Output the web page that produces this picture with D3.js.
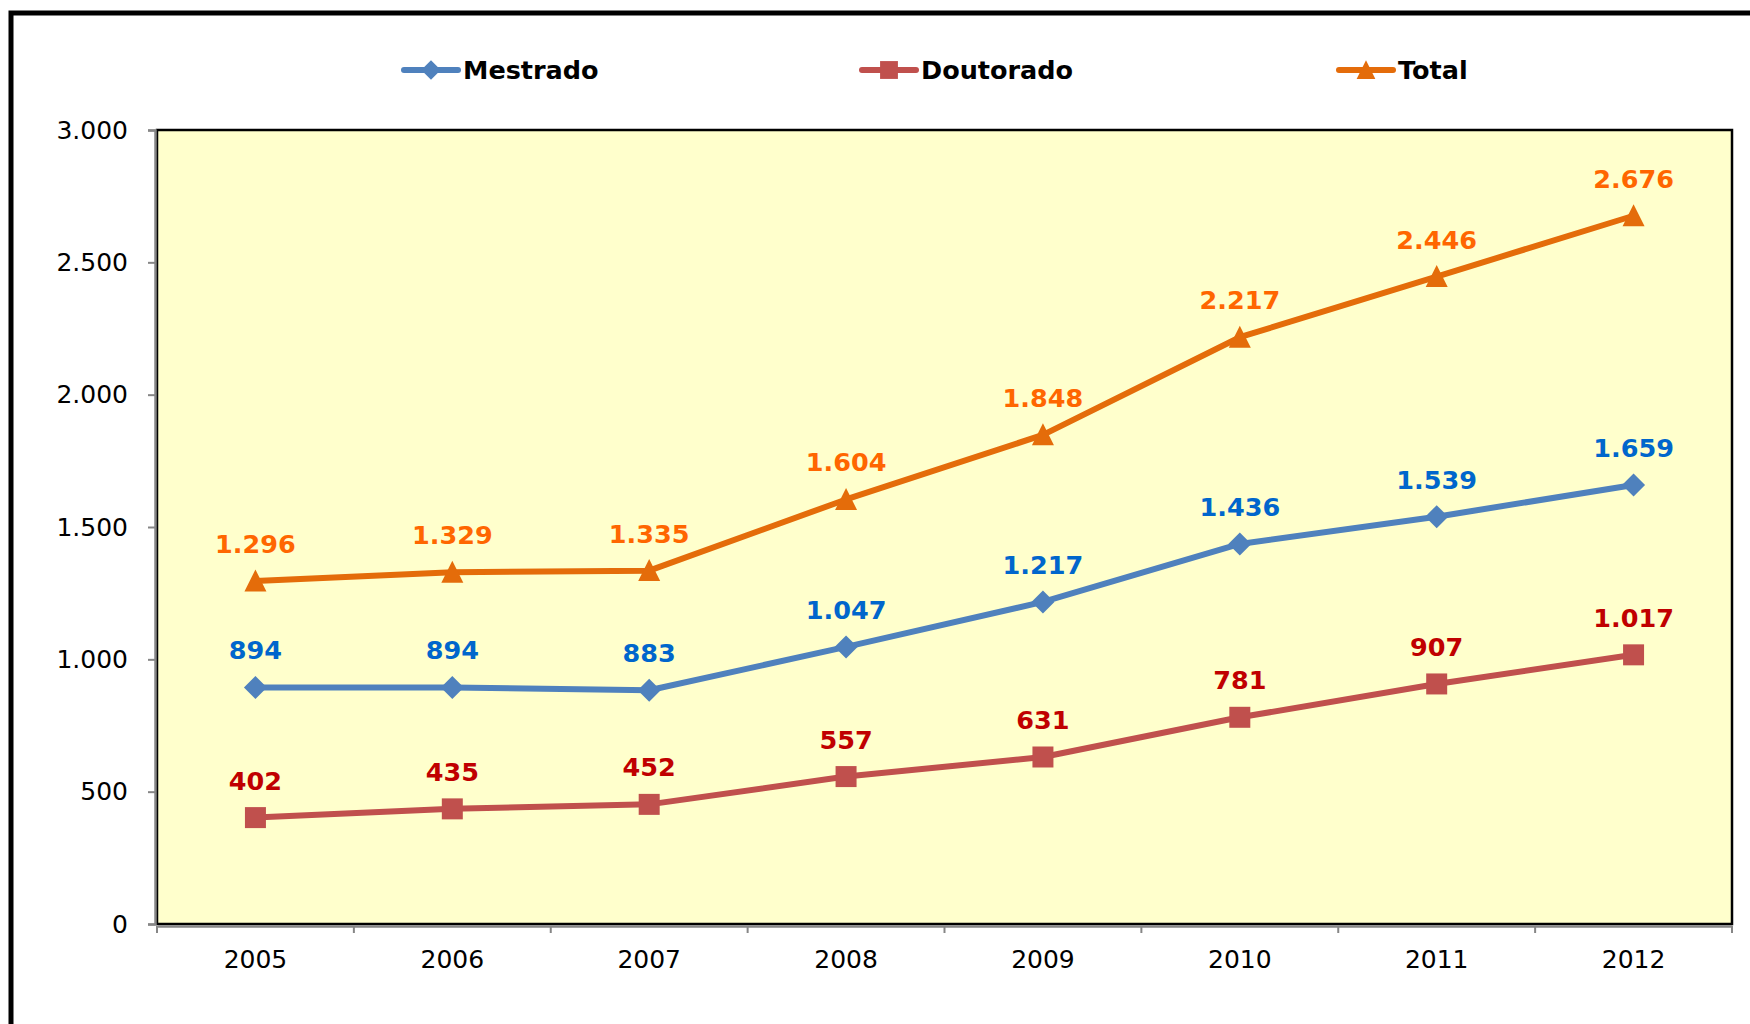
<!DOCTYPE html>
<html>
<head>
<meta charset="utf-8">
<script src="https://cdn.jsdelivr.net/npm/d3@7"></script>
<style>
  html, body { margin: 0; padding: 0; background: #ffffff; }
  svg { display: block; }
  text { font-family: "DejaVu Sans", Verdana, sans-serif; }
</style>
</head>
<body>
<svg id="chart" width="1750" height="1024"></svg>
<script>
// Data
const years = ["2005", "2006", "2007", "2008", "2009", "2010", "2011", "2012"];
const mestrado = [894, 894, 883, 1047, 1217, 1436, 1539, 1659];
const doutorado = [402, 435, 452, 557, 631, 781, 907, 1017];
const total = [1296, 1329, 1335, 1604, 1848, 2217, 2446, 2676];
const yTicks = [0, 500, 1000, 1500, 2000, 2500, 3000];
const seriesNames = ["Mestrado", "Doutorado", "Total"];

const series = [
  { name: seriesNames[0], values: mestrado, line: "#4F81BD", label: "#0066CC", marker: "diamond" },
  { name: seriesNames[1], values: doutorado, line: "#C0504D", label: "#C00000", marker: "square" },
  { name: seriesNames[2], values: total, line: "#E46C0A", label: "#FF6600", marker: "triangle" }
];

const locale = d3.formatLocale({ decimal: ",", thousands: ".", grouping: [3], currency: ["", ""] });
const fmt = locale.format(",d");

const svg = d3.select("#chart");

// Outer frame
svg.append("rect")
  .attr("x", 11).attr("y", 13)
  .attr("width", 1800).attr("height", 1100)
  .attr("fill", "#ffffff")
  .attr("stroke", "#000000").attr("stroke-width", 5);

const plot = { left: 157, right: 1732, top: 130, bottom: 924 };

const xBand = d3.scaleBand().domain(years).range([plot.left, plot.right]).paddingInner(0).paddingOuter(0);
const xc = d => xBand(d) + xBand.bandwidth() / 2;
const y = d3.scaleLinear().domain([0, 3000]).range([plot.bottom, plot.top]);

// Plot background
svg.append("rect")
  .attr("x", plot.left).attr("y", plot.top)
  .attr("width", plot.right - plot.left).attr("height", plot.bottom - plot.top)
  .attr("fill", "#FFFFCC")
  .attr("stroke", "#000000").attr("stroke-width", 2.5);

// Y axis
const yAxis = svg.append("g")
  .attr("transform", `translate(${plot.left - 2},0)`)
  .call(d3.axisLeft(y).tickValues(yTicks).tickFormat(fmt).tickSize(7).tickPadding(20));
yAxis.select(".domain").attr("stroke", "#868686").attr("stroke-width", 2.5);
yAxis.selectAll(".tick line").attr("stroke", "#868686").attr("stroke-width", 2);
yAxis.selectAll(".tick text")
  .attr("font-size", 25).attr("fill", "#000000")
  .style("font-family", "'DejaVu Sans', Verdana, sans-serif");

// X axis: labels centred in each band, tick marks at band boundaries
const xAxis = svg.append("g")
  .attr("transform", `translate(0,${plot.bottom + 2})`)
  .call(d3.axisBottom(xBand).tickSize(0).tickPadding(24));
xAxis.select(".domain").attr("stroke", "#868686").attr("stroke-width", 2.5);
xAxis.selectAll(".tick text")
  .attr("font-size", 25).attr("fill", "#000000")
  .style("font-family", "'DejaVu Sans', Verdana, sans-serif");
const bounds = years.map(d => xBand(d)).concat([xBand.range()[1]]);
xAxis.selectAll(".bound")
  .data(bounds)
  .enter().append("line")
  .attr("class", "bound")
  .attr("x1", d => d).attr("x2", d => d)
  .attr("y1", 0).attr("y2", 7)
  .attr("stroke", "#868686").attr("stroke-width", 2);

// Marker shapes
function markerPath(type, s) {
  if (type === "diamond") return `M0,${-s}L${s},0L0,${s}L${-s},0Z`;
  if (type === "square") return `M${-s},${-s}H${s}V${s}H${-s}Z`;
  return `M0,${-s * 1.05}L${s},${s * 0.95}H${-s}Z`;
}
const markerSize = { diamond: 11.5, square: 10.5, triangle: 11 };

const line = d3.line().x((d, i) => xc(years[i])).y(d => y(d));

series.forEach(s => {
  const g = svg.append("g").attr("class", "series");
  g.append("path")
    .datum(s.values)
    .attr("d", line)
    .attr("fill", "none")
    .attr("stroke", s.line)
    .attr("stroke-width", 6)
    .attr("stroke-linejoin", "round");
  g.selectAll(".mk")
    .data(s.values)
    .enter().append("path")
    .attr("class", "mk")
    .attr("transform", (d, i) => `translate(${xc(years[i])},${y(d)})`)
    .attr("d", markerPath(s.marker, markerSize[s.marker]))
    .attr("fill", s.line);
  g.selectAll(".lbl")
    .data(s.values)
    .enter().append("text")
    .attr("class", "lbl")
    .attr("x", (d, i) => xc(years[i]))
    .attr("y", d => y(d) - 28)
    .attr("text-anchor", "middle")
    .attr("font-size", 25.5)
    .attr("font-weight", "bold")
    .attr("fill", s.label)
    .text(d => fmt(d));
});

// Legend
const legendX = [404, 862, 1339];
const legend = svg.append("g").attr("class", "legend");
series.forEach((s, i) => {
  const g = legend.append("g").attr("transform", `translate(${legendX[i]},70)`);
  g.append("line")
    .attr("x1", 0).attr("x2", 54).attr("y1", 0).attr("y2", 0)
    .attr("stroke", s.line).attr("stroke-width", 6).attr("stroke-linecap", "round");
  g.append("path")
    .attr("transform", "translate(27,0)")
    .attr("d", markerPath(s.marker, markerSize[s.marker] * 0.85))
    .attr("fill", s.line);
  g.append("text")
    .attr("x", 59).attr("y", 9)
    .attr("font-size", 25.5)
    .attr("font-weight", "bold")
    .attr("fill", "#000000")
    .text(s.name);
});
</script>
</body>
</html>
